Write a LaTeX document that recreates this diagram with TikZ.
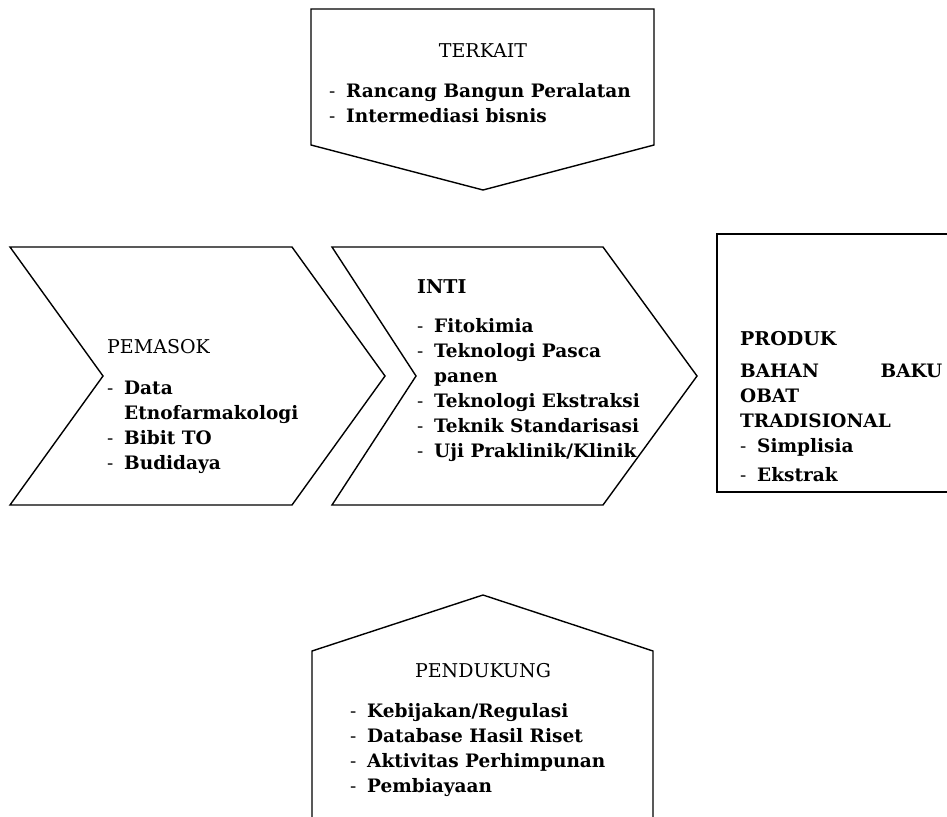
\documentclass[tikz,border=0pt]{standalone}
\usepackage{fontspec}
\setmainfont{DejaVu Serif}
\newcommand\dl[1]{\makebox[17pt][l]{\mdseries -}#1}
\newcommand\ind[1]{\hspace*{17pt}#1}
\tikzset{
  shp/.style={draw=black, line width=1.4pt, line join=miter},
  ttl/.style={inner sep=0pt, font=\fontsize{19}{25}\selectfont},
  lst/.style={inner sep=0pt, anchor=base west, font=\fontsize{18.5}{25}\selectfont\bfseries}
}
\begin{document}
\begin{tikzpicture}[x=1pt,y=-1pt]
\useasboundingbox (0,0) rectangle (947,816);
% shapes
\draw[shp] (311,9) -- (654,9) -- (654,145) -- (483,190) -- (311,145) -- cycle;
\draw[shp] (10,247) -- (292,247) -- (385,376) -- (292,505) -- (10,505) -- (103,376) -- cycle;
\draw[shp] (332,247) -- (603,247) -- (697,376) -- (603,505) -- (332,505) -- (416,376) -- cycle;
\draw[shp] (960,234) -- (717,234) -- (717,492) -- (960,492);
\draw[shp] (312,840) -- (312,651) -- (483,595) -- (653,651) -- (653,840);
% TERKAIT
\node[ttl, anchor=base] (terkaitT) at (483,57) {TERKAIT};
\node[lst] (terkaitL) at (329,97) {\begin{tabular}[t]{@{}l@{}}
\dl{Rancang Bangun Peralatan}\\
\dl{Intermediasi bisnis}
\end{tabular}};
% PEMASOK
\node[ttl, anchor=base west] (pemasokT) at (107,353) {PEMASOK};
\node[lst] (pemasokL) at (107,394) {\begin{tabular}[t]{@{}l@{}}
\dl{Data}\\
\ind{Etnofarmakologi}\\
\dl{Bibit TO}\\
\dl{Budidaya}
\end{tabular}};
% INTI
\node[ttl, anchor=base west, font=\fontsize{19}{25}\selectfont\bfseries] (intiT) at (417,293) {INTI};
\node[lst] (intiL) at (417,332) {\begin{tabular}[t]{@{}l@{}}
\dl{Fitokimia}\\
\dl{Teknologi Pasca}\\
\ind{panen}\\
\dl{Teknologi Ekstraksi}\\
\dl{Teknik Standarisasi}\\
\dl{Uji Praklinik/Klinik}
\end{tabular}};
% PRODUK
\node[ttl, anchor=base west, font=\fontsize{19}{25}\selectfont\bfseries] (produkT) at (740,345) {PRODUK};
\node[lst] (produkL) at (740,377) {\begin{tabular}[t]{@{}l@{}}
\makebox[202pt][s]{BAHAN\hfill BAKU}\\
OBAT\\
TRADISIONAL\\
\dl{Simplisia}\\[4pt]
\dl{Ekstrak}
\end{tabular}};
% PENDUKUNG
\node[ttl, anchor=base] (pendukungT) at (483,677) {PENDUKUNG};
\node[lst] (pendukungL) at (350,717) {\begin{tabular}[t]{@{}l@{}}
\dl{Kebijakan/Regulasi}\\
\dl{Database Hasil Riset}\\
\dl{Aktivitas Perhimpunan}\\
\dl{Pembiayaan}
\end{tabular}};
\end{tikzpicture}
\end{document}
